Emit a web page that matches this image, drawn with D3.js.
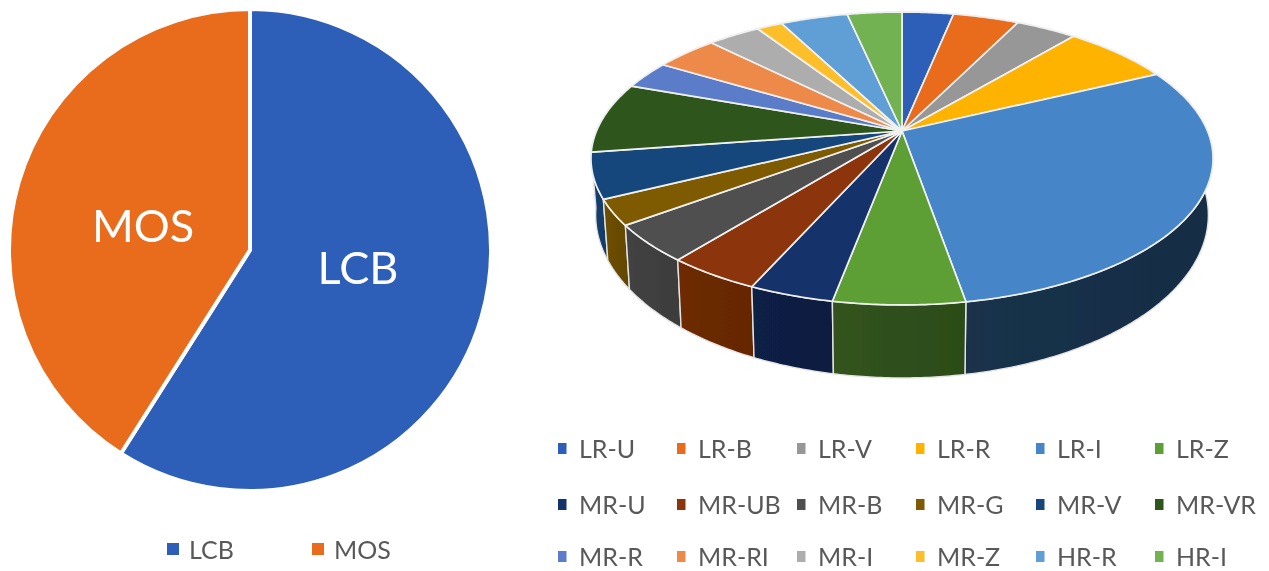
<!DOCTYPE html>
<html><head><meta charset="utf-8">
<script src="https://cdn.jsdelivr.net/npm/d3@7/dist/d3.min.js"></script>
<style>html,body{margin:0;padding:0;background:#fff;overflow:hidden}svg{display:block}text{font-family:Lato,"Open Sans",sans-serif}</style>
</head><body><svg id="c" width="1269" height="571"></svg>
<script>
const fractions = ["LCB","MOS"];
const fractionValues = [59,41];
const fractionColors = ["#2f5eb8","#e86c1f"];
const classes = ["LR-U","LR-B","LR-V","LR-R","LR-I","LR-Z","MR-U","MR-UB","MR-B","MR-G","MR-V","MR-VR","MR-R","MR-RI","MR-I","MR-Z","HR-R","HR-I"];
const classValues = [3.2,4.1,3.8,6.75,29.4,5.7,3.7,4.1,4.1,2.8,5.0,7.8,3.1,3.9,3.3,1.6,4.2,3.4];
const classColors = ["#2f5eb8","#e86c1f","#979797","#fdb300","#4485c8","#5d9e35","#18316a","#8c3607","#4f4f4f","#7e5a00","#15477b","#2f541c","#5a7bc9","#ed8a4a","#adadad","#fcbf2c","#619fd6","#72b253"];

const svg = d3.select("#c");
const defs = svg.append("defs");
defs.append("filter").attr("id","soft").attr("x",0).attr("y",0).attr("width",1).attr("height",1)
  .append("feGaussianBlur").attr("stdDeviation",0.55);
const root = svg.append("g").attr("filter","url(#soft)");

/* flat pie */
const flat = root.append("g").attr("transform","translate(250,250)");
const arc2d = d3.arc().innerRadius(0).outerRadius(241);
const flatPie = d3.pie().sort(null)(fractionValues);
flat.selectAll("path").data(flatPie).join("path")
  .attr("d",arc2d).attr("fill",(d,i)=>fractionColors[i]).attr("stroke","#fff").attr("stroke-width",4);
const labelPos = [[108,34],[-107,-8]];
flat.selectAll("text").data(fractions).join("text")
  .attr("x",(d,i)=>labelPos[i][0]).attr("y",(d,i)=>labelPos[i][1])
  .attr("text-anchor","middle").attr("font-size",45).attr("fill","#fff").text(d=>d);

const fl = root.append("g");
const flX = [167,312];
fractions.forEach((n,i)=>{
  fl.append("rect").attr("x",flX[i]).attr("y",543).attr("width",12).attr("height",12).attr("fill",fractionColors[i]);
  fl.append("text").attr("x",flX[i]+22).attr("y",559).attr("font-size",25).attr("fill","#595959").text(n);
});

/* perspective pie */
const apexX=902, apexY=131, a=305.5, b=141.3, k=-0.1877;
function topRim(t){
  const u=Math.sin(t), v=-Math.cos(t), w=1+k*v;
  return [apexX+a*u/w, apexY+b*v/w];
}
const lowX = d3.scaleLinear().domain([apexX,apexX+100]).range([apexX,apexX+98.5]);
const lowY = d3.scaleLinear().domain([199,305]).range([260,378]);
const botRim = t=>{const p=topRim(t);return [lowX(p[0]),lowY(p[1])];};
const shade = d3.scaleLinear().domain([60,117,180,197,211,226,238,252]).range([.34,.36,.5,.62,.75,.8,.82,.85]).clamp(true);
const line = d3.line();
const samples = d=>{
  const n=Math.max(2,Math.ceil((d.endAngle-d.startAngle)/0.01));
  return d3.range(n+1).map(i=>d.startAngle+(d.endAngle-d.startAngle)*i/n);
};
const pie3d = d3.pie().sort(null)(classValues).map((d,i)=>({...d,i}));
const deg = r=>r*180/Math.PI;
const walls = pie3d.slice().sort((p,q)=>
  Math.abs(deg(q.startAngle+q.endAngle)/2-180)-Math.abs(deg(p.startAngle+p.endAngle)/2-180));
const g3 = root.append("g");
const scaled = (c,f)=>{const r=d3.rgb(c);return d3.rgb(r.r*f,r.g*f,r.b*f).formatHex();};
walls.forEach(d=>{
  const id="w"+d.i;
  const s=shade(deg(d.startAngle+d.endAngle)/2);
  const x1=botRim(d.startAngle)[0], x2=botRim(d.endAngle)[0];
  const gr=defs.append("linearGradient").attr("id",id).attr("gradientUnits","userSpaceOnUse")
    .attr("x1",x1).attr("x2",x2).attr("y1",0).attr("y2",0);
  gr.append("stop").attr("offset",0).attr("stop-color",scaled(classColors[d.i],s*0.95));
  gr.append("stop").attr("offset",1).attr("stop-color",scaled(classColors[d.i],s*1.05));
  const ts=samples(d);
  g3.append("path").attr("d",line(ts.map(topRim).concat(ts.slice().reverse().map(botRim)))+"Z")
    .attr("fill",`url(#${id})`).attr("stroke","#e4e4e4").attr("stroke-width",1.4).attr("stroke-linejoin","round");
});
pie3d.forEach(d=>{
  g3.append("path").attr("d",line([[apexX,apexY]].concat(samples(d).map(topRim)))+"Z")
    .attr("fill",classColors[d.i]).attr("stroke","#f0f0f0").attr("stroke-width",1.7).attr("stroke-linejoin","round");
});

/* legend */
const colX=[558,677,797,916,1036,1155], rowY=[458,514,566];
const lg=root.append("g");
classes.forEach((n,i)=>{
  const c=i%6, r=Math.floor(i/6);
  lg.append("rect").attr("x",colX[c]).attr("y",rowY[r]-15).attr("width",8.5).attr("height",11).attr("fill",classColors[i]);
  lg.append("text").attr("x",colX[c]+21).attr("y",rowY[r]).attr("font-size",25).attr("fill","#595959").text(n);
});
</script></body></html>
